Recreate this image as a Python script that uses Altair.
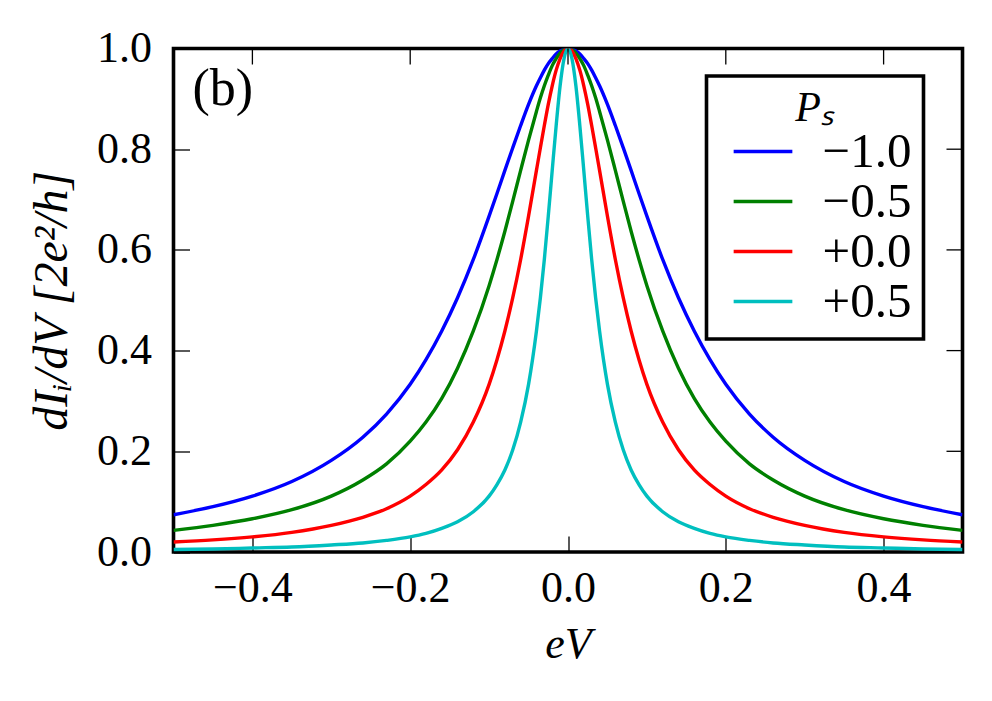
import altair as alt
import pandas as pd

# x positions (eV) at which curves were read
ev = [-0.50, -0.45, -0.40, -0.35, -0.30, -0.26, -0.23, -0.20, -0.18, -0.16, -0.14, -0.12,
      -0.10, -0.09, -0.08, -0.07, -0.06, -0.05, -0.04, -0.035, -0.03, -0.025, -0.02, -0.015,
      -0.01, -0.005, 0.0, 0.005, 0.01, 0.015, 0.02, 0.025, 0.03, 0.035, 0.04, 0.05, 0.06,
      0.07, 0.08, 0.09, 0.10, 0.12, 0.14, 0.16, 0.18, 0.20, 0.23, 0.26, 0.30, 0.35, 0.40,
      0.45, 0.50]

ps_labels = ["\u22121.0", "\u22120.5", "+0.0", "+0.5"]
ps_colors = ["#0000ff", "#008000", "#ff0000", "#00bfbf"]

g_m10 = [0.074, 0.090, 0.111, 0.140, 0.182, 0.228, 0.274, 0.333, 0.382, 0.439, 0.505, 0.581,
         0.667, 0.712, 0.758, 0.803, 0.847, 0.889, 0.926, 0.942, 0.957, 0.970, 0.980, 0.989,
         0.995, 0.999, 1.000, 0.999, 0.995, 0.989, 0.980, 0.970, 0.957, 0.942, 0.926, 0.889,
         0.847, 0.803, 0.758, 0.712, 0.667, 0.581, 0.505, 0.439, 0.382, 0.333, 0.274, 0.228,
         0.182, 0.140, 0.111, 0.090, 0.074]
g_m05 = [0.043, 0.053, 0.066, 0.084, 0.111, 0.143, 0.175, 0.220, 0.258, 0.305, 0.365, 0.439,
         0.529, 0.581, 0.637, 0.697, 0.758, 0.818, 0.875, 0.902, 0.926, 0.947, 0.966, 0.980,
         0.991, 0.998, 1.000, 0.998, 0.991, 0.980, 0.966, 0.947, 0.926, 0.902, 0.875, 0.818,
         0.758, 0.697, 0.637, 0.581, 0.529, 0.439, 0.365, 0.305, 0.258, 0.220, 0.175, 0.143,
         0.111, 0.084, 0.066, 0.053, 0.043]
g_p00 = [0.020, 0.024, 0.030, 0.039, 0.053, 0.069, 0.086, 0.111, 0.134, 0.163, 0.203, 0.258,
         0.333, 0.382, 0.439, 0.505, 0.581, 0.667, 0.758, 0.803, 0.847, 0.889, 0.926, 0.957,
         0.980, 0.995, 1.000, 0.995, 0.980, 0.957, 0.926, 0.889, 0.847, 0.803, 0.758, 0.667,
         0.581, 0.505, 0.439, 0.382, 0.333, 0.258, 0.203, 0.163, 0.134, 0.111, 0.086, 0.069,
         0.053, 0.039, 0.030, 0.024, 0.020]
g_p05 = [0.005, 0.006, 0.008, 0.010, 0.014, 0.018, 0.023, 0.030, 0.037, 0.047, 0.060, 0.080,
         0.111, 0.134, 0.163, 0.203, 0.258, 0.333, 0.439, 0.505, 0.581, 0.667, 0.758, 0.847,
         0.926, 0.980, 1.000, 0.980, 0.926, 0.847, 0.758, 0.667, 0.581, 0.505, 0.439, 0.333,
         0.258, 0.203, 0.163, 0.134, 0.111, 0.080, 0.060, 0.047, 0.037, 0.030, 0.023, 0.018,
         0.014, 0.010, 0.008, 0.006, 0.005]

x_ticks = [-0.4, -0.2, 0.0, 0.2, 0.4]
y_ticks = [0.0, 0.2, 0.4, 0.6, 0.8, 1.0]
y_inner_ticks = [0.2, 0.4, 0.6, 0.8]

rows = []
for lab, ys in zip(ps_labels, [g_m10, g_m05, g_p00, g_p05]):
    for xv, yv in zip(ev, ys):
        rows.append({"x": xv, "y": yv, "P": lab})
df = pd.DataFrame(rows)

W, H = 789, 503.5
FONT = "Liberation Serif"
TICK = 16

xscale = alt.Scale(domain=[-0.5, 0.5], nice=False, zero=False)
yscale = alt.Scale(domain=[0, 1], nice=False, zero=False)

xaxis = alt.Axis(values=x_ticks, format=".1f", title="eV", offset=-TICK,
                 tickSize=TICK, domain=False, grid=False, labelPadding=14,
                 titleFontStyle="italic", titlePadding=12)
yaxis = alt.Axis(values=y_ticks, format=".1f", title="dI\u1d62/dV [2e\u00b2/h]",
                 offset=-TICK, tickSize=TICK, domain=False, grid=False,
                 labelPadding=22, titleFontStyle="italic", titlePadding=20,
                 titleFontSize=48)

lines = alt.Chart(df).mark_line(strokeWidth=3.4, interpolate="monotone", clip=True).encode(
    x=alt.X("x:Q", scale=xscale, axis=xaxis),
    y=alt.Y("y:Q", scale=yscale, axis=yaxis),
    color=alt.Color("P:N", scale=alt.Scale(domain=ps_labels, range=ps_colors),
                    legend=alt.Legend(title="P\u209b", orient="none", legendX=533,
                                      legendY=27.5, symbolType="stroke", clipHeight=49)),
)

top_ticks = alt.Chart(pd.DataFrame({"x": x_ticks})).mark_rule(
    color="black", strokeWidth=1.3).encode(
    x=alt.X("x:Q", scale=xscale, axis=xaxis),
    y=alt.value(0), y2=alt.value(TICK))

right_ticks = alt.Chart(pd.DataFrame({"y": y_inner_ticks})).mark_rule(
    color="black", strokeWidth=1.3).encode(
    y=alt.Y("y:Q", scale=yscale, axis=yaxis),
    x=alt.value(W - TICK), x2=alt.value(W))

panel = alt.Chart(pd.DataFrame({"t": ["(b)"]})).mark_text(
    font=FONT, fontSize=52, align="left", baseline="alphabetic", color="black").encode(
    text="t:N", x=alt.value(19), y=alt.value(56))

chart = alt.layer(lines, top_ticks, right_ticks, panel).properties(
    width=W, height=H, autosize="none",
    padding={"left": 165.5, "top": 40.5, "right": 20, "bottom": 130},
    background="white",
).configure_view(
    stroke="black", strokeWidth=3.6
).configure_axis(
    labelFont=FONT, labelFontSize=44, labelColor="black",
    titleFont=FONT, titleFontSize=44, titleColor="black", titleFontWeight="normal",
    tickColor="black", tickWidth=1.3,
).configure_legend(
    strokeColor="black", strokeWidth=3.6, fillColor="white", padding=12, cornerRadius=0,
    labelFont=FONT, labelFontSize=49, labelColor="black", labelOffset=28,
    titleFont=FONT, titleFontSize=42, titleColor="black", titleFontWeight="normal",
    titleFontStyle="italic", titleAnchor="middle", titleAlign="center", titlePadding=-3,
    symbolSize=3446, symbolStrokeWidth=3.4, symbolOffset=13, rowPadding=0,
)

chart.save("out.html", embed_options={"renderer": "svg", "actions": False})
